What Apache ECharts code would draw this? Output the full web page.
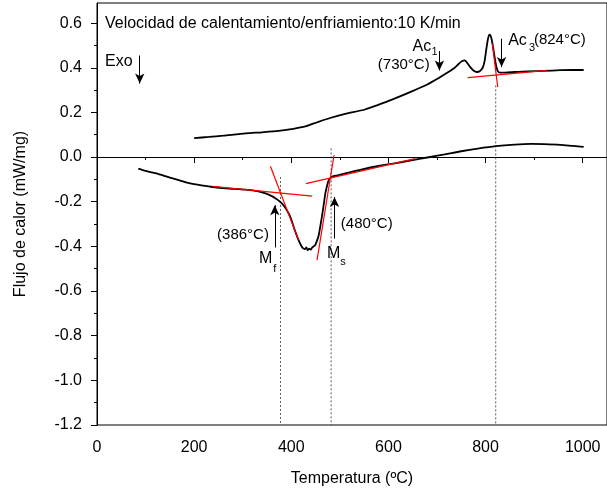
<!DOCTYPE html>
<html><head><meta charset="utf-8">
<script src="https://cdn.jsdelivr.net/npm/echarts@6/dist/echarts.min.js"></script>
<style>html,body{margin:0;padding:0;background:#fff}#c{width:607px;height:492px}</style>
</head><body><div id="c"></div>
<script>
// ---- data (temperature °C, heat flow mW/mg) ----
const heatTemp = [200,230,260,306,340,374,400,429,456,480,511,552,579,606,647,680,702,720,735,745,752,757,762,768,775,782,788,794,798,802,805,808,811,814,817,820,823,826,830,840,860,886,920,954,980,1002];
const heatFlow = [0.085,0.09,0.096,0.106,0.111,0.117,0.125,0.137,0.158,0.175,0.193,0.213,0.234,0.256,0.293,0.325,0.352,0.376,0.398,0.418,0.430,0.433,0.422,0.404,0.388,0.381,0.384,0.400,0.43,0.49,0.53,0.548,0.54,0.51,0.47,0.43,0.398,0.382,0.378,0.378,0.381,0.384,0.386,0.389,0.390,0.390];
const coolTemp = [85,100,122,150,170,190,215,238,265,293,306,330,347,360,368,375,381,388,395,400,405,410,415,420,424,428,431,434,437,440,443,446,449,452,456,459,463,467,470,474,477,481,484,495,511,540,579,610,647,680,716,750,784,821,860,893,920,954,980,1002];
const coolFlow = [-0.052,-0.062,-0.073,-0.092,-0.104,-0.117,-0.127,-0.134,-0.140,-0.144,-0.146,-0.153,-0.163,-0.175,-0.186,-0.197,-0.209,-0.228,-0.254,-0.28,-0.313,-0.344,-0.372,-0.395,-0.408,-0.412,-0.405,-0.417,-0.410,-0.415,-0.405,-0.400,-0.395,-0.380,-0.355,-0.32,-0.268,-0.21,-0.164,-0.125,-0.104,-0.093,-0.088,-0.082,-0.073,-0.058,-0.040,-0.029,-0.015,-0.002,0.012,0.026,0.038,0.049,0.056,0.059,0.058,0.055,0.050,0.046];
// tangent construction lines (red)
const tangentLines = [
  [[763,0.356],[927,0.388]],
  [[814,0.508],[825,0.314]],
  [[238,-0.131],[443,-0.175]],
  [[357,-0.041],[415,-0.372]],
  [[453,-0.462],[488,0.008]],
  [[430,-0.119],[655,-0.007]]
];
// transformation temperatures (dotted verticals): [temp, top value]
const markTemps = [[378,-0.089],[482,0.039],[821,0.321]];
const yBottom = -1.2;
// arrows: [x, yStart, yEnd]
const arrows = [[88,0.455,0.329],[705,0.475,0.388],[833,0.530,0.403],[366,-0.405,-0.216],[489,-0.365,-0.179]];
// axis ticks
const xMajor = [0,200,400,600,800,1000];
const xMinor = [100,300,500,700,900];
const yMajor = [-1.2,-1.0,-0.8,-0.6,-0.4,-0.2,0.0,0.2,0.4,0.6];
const yMinor = [-1.1,-0.9,-0.7,-0.5,-0.3,-0.1,0.1,0.3,0.5];
// text annotations: [text, x, y, align, size]
const texts = [
  ['Velocidad de calentamiento/enfriamiento:10 K/min',16.4,0.599,'left',16],
  ['Exo',16.4,0.426,'left',16],
  ['Ac',688.1,0.493,'right',16],
  ['1',688.6,0.469,'left',11],
  ['(730°C)',684.9,0.411,'right',15],
  ['Ac',846.5,0.523,'left',16],
  ['3',889.5,0.490,'left',11],
  ['(824°C)',899.5,0.523,'left',15],
  ['(386°C)',354,-0.350,'right',15],
  ['M',333.5,-0.454,'left',16],
  ['f',362.8,-0.499,'left',11],
  ['(480°C)',502,-0.298,'left',15],
  ['M',473.3,-0.432,'left',16],
  ['s',500.7,-0.469,'left',11]
];

const FONT = '"Liberation Sans", Arial, sans-serif';
const chart = echarts.init(document.getElementById('c'), null, {renderer:'canvas'});
const zip = (a,b) => a.map((v,i)=>[v,b[i]]);
const series = [
  {type:'line', data: zip(heatTemp, heatFlow), symbol:'none', smooth:0.25, lineStyle:{color:'#000', width:1.8},
   markLine:{silent:true, symbol:['none','arrow'], symbolSize:[7,10], label:{show:false},
     lineStyle:{color:'#000', width:1, type:'solid'},
     data: arrows.map(a=>[{coord:[a[0],a[1]]},{coord:[a[0],a[2]]}])}},
  {type:'line', data: zip(coolTemp, coolFlow), symbol:'none', smooth:0.25, lineStyle:{color:'#000', width:1.8}}
];
tangentLines.forEach(l=>series.push({type:'line', data:l, symbol:'none', lineStyle:{color:'#ff0000', width:1.2}, z:3}));
markTemps.forEach(m=>series.push({type:'line', data:[[m[0],m[1]],[m[0],yBottom]], symbol:'none', lineStyle:{color:'#333', width:0.8, type:[2,2]}, z:1}));

chart.setOption({
  animation:false,
  backgroundColor:'#fff',
  grid:{left:97, right:-3, top:3, bottom:67, show:true, borderColor:'#000', borderWidth:1},
  xAxis:[{type:'value', min:0, max:1050, interval:200, position:'bottom',
    name:'Temperatura (ºC)', nameLocation:'middle', nameGap:46,
    nameTextStyle:{fontFamily:FONT, fontSize:16, color:'#000'},
    axisLine:{lineStyle:{color:'#000'}},
    axisTick:{length:6, customValues:xMajor, lineStyle:{color:'#000'}},
    axisLabel:{customValues:xMajor, fontFamily:FONT, fontSize:16, color:'#000', margin:15,
      formatter:v=>String(v)},
    splitLine:{show:false}},
   {type:'value', min:0, max:1050, position:'bottom', axisLine:{show:false},
    axisTick:{length:3, customValues:xMinor, lineStyle:{color:'#000'}},
    axisLabel:{show:false}, splitLine:{show:false}}],
  yAxis:[{type:'value', min:-1.2, max:0.69, interval:0.2, position:'left',
    name:'Flujo de calor (mW/mg)', nameLocation:'middle', nameGap:68,
    nameTextStyle:{fontFamily:FONT, fontSize:16, color:'#000'},
    axisLine:{show:true, lineStyle:{color:'#000'}},
    axisTick:{show:true, length:6, customValues:yMajor, lineStyle:{color:'#000'}},
    axisLabel:{customValues:yMajor, fontFamily:FONT, fontSize:16, color:'#000', margin:15,
      formatter:v=>v.toFixed(1)},
    splitLine:{show:false}},
   {type:'value', min:-1.2, max:0.69, position:'left', axisLine:{show:false},
    axisTick:{show:true, length:3, customValues:yMinor, lineStyle:{color:'#000'}},
    axisLabel:{show:false}, splitLine:{show:false}}],
  series: series
});

const graphics = texts.map(t=>{
  const p = chart.convertToPixel({xAxisIndex:0, yAxisIndex:0},[t[1],t[2]]);
  return {type:'text', x:p[0], y:p[1], z:10, silent:true,
    style:{text:t[0], fill:'#000', font:t[4]+'px '+FONT, align:t[3], verticalAlign:'middle'}};
});
chart.setOption({graphic:graphics});
</script>
</body></html>
